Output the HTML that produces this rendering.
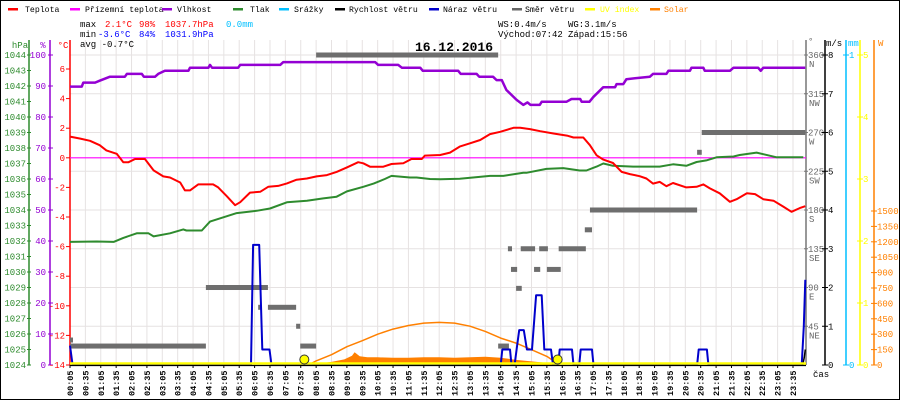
<!DOCTYPE html>
<html><head><meta charset="utf-8"><style>
html,body{margin:0;padding:0;background:#fff}
svg{display:block}
text{font-family:"Liberation Mono",monospace;font-size:9px}
</style></head><body>
<svg id="chart" width="900" height="400" viewBox="0 0 900 400" xmlns="http://www.w3.org/2000/svg">
<rect x="0.5" y="0.5" width="899" height="399" fill="#fff" stroke="#000"/>
<g id="grid"></g>
<g id="legend"></g>
<g>
<text x="80" y="27" fill="#000">max</text><text x="105" y="27" fill="#f00">2.1°C</text><text x="139" y="27" fill="#f00">98%</text><text x="165" y="27" fill="#f00">1037.7hPa</text><text x="226" y="27" fill="#00bfff">0.0mm</text>
<text x="80" y="37" fill="#000">min</text><text x="98" y="37" fill="#00f">-3.6°C</text><text x="139" y="37" fill="#00f">84%</text><text x="165" y="37" fill="#00f">1031.9hPa</text>
<text x="80" y="47" fill="#000">avg -0.7°C</text>
<text x="498" y="27" fill="#000">WS:0.4m/s</text><text x="568" y="27" fill="#000">WG:3.1m/s</text>
<text x="498" y="37" fill="#000">Východ:07:42</text><text x="568" y="37" fill="#000">Západ:15:56</text>
</g>
<text x="415" y="51" style="font-size:13px;font-weight:bold">16.12.2016</text>
<g id="axes"></g>
<g id="series"></g>
<g id="xlabels"></g>
<text x="813" y="377">čas</text>
</svg>
<script>
const tempTimes=["00:05","00:25","00:44","01:03","01:16","01:36","01:49","01:59","02:12","02:31","02:48","03:07","03:20","03:40","03:49","03:59","04:15","04:32","04:44","04:54","05:11","05:27","05:37","05:56","06:16","06:32","06:51","07:08","07:27","07:47","08:06","08:26","08:45","09:05","09:27","09:37","09:50","10:16","10:32","10:55","11:11","11:31","11:37","12:07","12:26","12:45","13:05","13:25","13:44","14:04","14:30","14:43","15:02","15:22","15:48","16:14","16:27","16:46","16:59","17:12","17:25","17:44","18:01","18:17","18:36","18:49","19:02","19:15","19:28","19:41","20:07","20:27","20:40","20:53","21:12","21:32","21:45","22:05","22:21","22:37","22:57","23:16","23:32","23:48","23:59"];
const tempValues=[1.43,1.3,1.15,0.85,0.5,0.27,-0.3,-0.3,-0.08,-0.08,-0.85,-1.26,-1.33,-1.67,-2.2,-2.2,-1.8,-1.8,-1.8,-2.0,-2.6,-3.2,-3.0,-2.35,-2.3,-1.95,-1.9,-1.73,-1.48,-1.4,-1.26,-1.17,-0.95,-0.65,-0.3,-0.37,-0.6,-0.6,-0.42,-0.37,-0.08,-0.08,0.15,0.19,0.35,0.76,0.98,1.2,1.6,1.76,2.03,2.03,1.94,1.8,1.64,1.5,1.37,1.37,0.85,0.17,-0.12,-0.35,-0.95,-1.1,-1.24,-1.4,-1.74,-1.63,-1.92,-1.7,-2.0,-1.96,-1.8,-2.07,-2.4,-2.97,-2.8,-2.4,-2.45,-2.8,-2.9,-3.3,-3.65,-3.4,-3.27];
const humTimes=["00:05","00:28","00:31","00:54","01:03","01:23","01:52","01:56","02:25","02:29","02:51","02:57","03:10","03:56","03:59","04:35","04:38","04:42","05:33","05:37","06:55","07:01","10:00","10:06","10:45","10:52","11:28","11:33","12:42","12:47","13:18","13:23","13:50","13:57","14:07","14:16","14:36","14:49","14:57","15:03","15:21","15:25","16:13","16:23","16:26","16:40","16:43","16:58","17:06","17:25","17:48","17:51","18:04","18:10","18:56","19:02","19:28","19:32","20:14","20:17","20:40","20:43","21:32","21:39","22:27","22:32","22:37","22:59","23:02","23:59"];
const humValues=[89.8,89.8,91.1,91.1,91.7,93.0,93.0,93.9,93.9,93.0,93.0,93.9,94.9,94.9,95.9,95.9,96.8,95.9,95.9,96.8,96.8,97.7,97.7,96.8,96.8,95.9,95.9,94.9,94.9,93.9,93.9,93.0,93.0,91.9,91.9,88.7,85.5,83.9,84.7,83.9,83.9,84.9,84.9,85.8,85.8,85.8,84.9,84.9,86.5,89.6,89.6,90.6,90.6,92.2,93.0,93.9,93.9,94.9,94.9,95.9,95.9,94.9,94.9,95.9,95.9,94.9,95.9,95.9,95.9,95.9];
const presTimes=["00:05","00:57","01:30","01:49","02:15","02:38","02:48","03:20","03:46","03:52","04:22","04:38","05:11","05:30","06:09","06:35","07:08","07:47","08:19","08:45","09:05","09:37","09:57","10:19","10:32","11:08","11:21","11:47","12:07","12:45","13:11","13:44","14:10","14:49","14:55","15:34","16:07","16:39","16:52","17:12","17:25","17:44","18:23","19:15","19:41","20:07","20:27","20:46","21:06","21:39","21:51","22:24","23:03","23:55"];
const presValues=[1031.94,1031.97,1031.94,1032.2,1032.5,1032.5,1032.3,1032.5,1032.75,1032.68,1032.68,1033.25,1033.6,1033.8,1033.95,1034.1,1034.5,1034.6,1034.75,1034.86,1035.2,1035.5,1035.7,1036.0,1036.2,1036.1,1036.1,1036.0,1035.98,1036.02,1036.1,1036.2,1036.2,1036.4,1036.4,1036.65,1036.7,1036.55,1036.55,1036.8,1037.0,1036.85,1036.8,1036.8,1036.95,1036.85,1037.1,1037.2,1037.4,1037.45,1037.55,1037.7,1037.4,1037.4];
const dirStart=["00:05","00:05","04:30","06:12","06:31","07:26","07:34","08:05","14:00","14:19","14:25","14:35","14:44","15:10","15:20","15:35","15:58","16:49","16:59","20:28","20:37"];
const dirEnd=["00:08","04:30","06:31","06:19","07:26","07:34","08:05","14:00","14:21","14:27","14:37","14:46","15:12","15:22","15:37","16:02","16:51","17:03","20:28","20:37","23:59"];
const dirValues=[29,22,90,67,67,45,22,360,22,135,111,89,135,111,135,111,135,157,180,247,270];
const gustTimes=["00:05","00:10","05:58","06:02","06:14","06:20","06:34","06:38","14:05","14:08","14:23","14:26","14:32","14:36","14:41","14:50","14:56","15:06","15:14","15:25","15:30","15:43","15:47","15:57","16:00","16:24","16:27","16:38","16:41","17:03","17:06","20:28","20:31","20:47","20:50","23:52","23:56","23:59"];
const gustValues=[0.5,0,0,3.1,3.1,0.4,0.4,0,0,0.4,0.4,0,0,0.4,0.9,0.9,0.4,0.4,1.8,1.8,0.4,0.4,0,0,0.4,0.4,0,0,0.4,0.4,0,0,0.4,0.4,0,0,1.0,2.2];
const speedTimes=["23:54","23:57","23:59"];
const speedValues=[0,0.2,0.4];
const solarTimes=["07:55","08:10","08:35","09:00","09:15","09:20","09:30","09:45","10:05","10:35","11:05","11:35","12:05","12:35","13:05","13:35","14:05","14:20","14:35","15:05","15:35","15:55"];
const solarValues=[0,15,30,55,90,125,85,75,75,70,70,75,75,70,75,80,70,60,50,35,20,0];
const solarMaxTimes=["07:50","08:05","08:35","09:05","09:35","10:05","10:35","11:05","11:35","12:05","12:35","13:05","13:35","14:05","14:35","15:05","15:35","16:00"];
const solarMaxValues=[0,40,100,178,237,300,350,385,408,415,408,378,327,262,213,149,84,0];
const sunTimes=["07:42","15:56"];
const xTickLabels=[];for(let h=0;h<24;h++){for(const m of ["05","35"]){xTickLabels.push(String(h).padStart(2,"0")+":"+m);}}
const tempTicks=[6,4,2,0,-2,-4,-6,-8,-10,-12,-14];
const humTicks=[100,90,80,70,60,50,40,30,20,10,0];
const presTicks=[1044,1043,1042,1041,1040,1039,1038,1037,1036,1035,1034,1033,1032,1031,1030,1029,1028,1027,1026,1025,1024];
const dirTicks=[360,315,270,225,180,135,90,45];
const dirNames=["N","NW","W","SW","S","SE","E","NE"];
const windTicks=[8,7,6,5,4,3,2,1,0];
const uvTicks=[5,4,3,2,1,0];
const solTicks=[1500,1350,1200,1050,900,750,600,450,300,150,0];

const NS="http://www.w3.org/2000/svg";
const mins=s=>{const [h,m]=s.split(":").map(Number);return h*60+m;};
const X=t=>70+(mins(t)-5)*0.51277;
const yT=c=>365-(c+14)*14.8;
const yH=h=>365-h*3.1;
const yP=p=>365-(p-1024)*15.5;
const yD=d=>365-d*0.8611;
const yW=v=>365-v*38.75;
const yU=u=>365-u*62;
const yS=w=>365-w*0.10267;
function mk(tag,attrs,parent){const e=document.createElementNS(NS,tag);for(const k in attrs)e.setAttribute(k,attrs[k]);parent.appendChild(e);return e;}
const grid=document.getElementById('grid'),axes=document.getElementById('axes'),series=document.getElementById('series'),xl=document.getElementById('xlabels'),legend=document.getElementById('legend');

xTickLabels.forEach(t=>{const x=X(t);const l=mk('line',{x1:x,x2:x,y1:40,y2:365,stroke:'#e6e2e2'},grid);

});
windTicks.forEach(v=>{if(v===0)return;const y=yW(v);const l=mk('line',{x1:70,x2:806,y1:y,y2:y,stroke:'#e6e2e2'},grid);

});

const legItems=[["Teplota","#f00",8,25,"#000"],["Přízemní teplota","#f0f",70,85,"#000"],["Vlhkost","#9400d3",162,177,"#000"],["Tlak","#2e8b2e",233,250,"#000"],["Srážky","#00bfff",279,294,"#000"],["Rychlost větru","#000",335,349,"#000"],["Náraz větru","#00c",429,443,"#000"],["Směr větru","#666",512,525,"#000"],["UV index","#ff0",585,600,"#ff0"],["Solar","#ff8000",650,664,"#ff8000"]];
legItems.forEach(it=>{const g=mk('g',{},legend);


mk('rect',{x:it[2],y:8,width:10,height:2.5,fill:it[1]},g);
const t=mk('text',{x:it[3],y:12,fill:it[4],style:'font-size:8.2px'},g);t.textContent=it[0];});

function axisLine(x,y1,color,name){const l=mk('line',{x1:x,x2:x,y1:y1,y2:365,stroke:color,'stroke-width':1.5},axes);

}
function label(x,y,s,color,anchor){const t=mk('text',{x:x,y:y,fill:color,'text-anchor':anchor||'end'},axes);t.textContent=s;return t;}
axisLine(29,40,'#2e8b2e','pressure-axis');axisLine(50,40,'#9400d3','humidity-axis');axisLine(70,40,'#f00','temperature-axis');
label(20,48,'hPa','#2e8b2e','middle');label(43,48,'%','#9400d3','middle');label(63,48,'°C','#f00','middle');
presTicks.forEach(p=>{const y=yP(p);mk('line',{x1:27,x2:31,y1:y,y2:y,stroke:'#2e8b2e'},axes);label(26,y+3,String(p),'#2e8b2e');});
humTicks.forEach(h=>{const y=yH(h);mk('line',{x1:48,x2:53,y1:y,y2:y,stroke:'#9400d3'},axes);label(46,y+3,String(h),'#9400d3');});
tempTicks.forEach(c=>{const y=yT(c);mk('line',{x1:66,x2:70,y1:y,y2:y,stroke:'#f00'},axes);label(65,y+3,String(c),'#f00');});

axisLine(806,40,'#777','direction-axis');axisLine(825,40,'#000','wind-axis');axisLine(846,40,'#00bfff','rain-axis');axisLine(860,40,'#ff0','uv-axis');axisLine(874,40,'#ff8000','solar-axis');
label(808,44,'°','#666','start');label(826,46,'m/s','#000','start');label(848,46,'mm','#00bfff','start');label(878,46,'W','#ff8000','start');
dirTicks.forEach((d,i)=>{const y=yD(d);mk('line',{x1:804,x2:808,y1:y,y2:y,stroke:'#777'},axes);label(808,y+3,String(d),'#666','start');label(809,y+12,dirNames[i],'#666','start');});
windTicks.forEach(v=>{const y=yW(v);mk('line',{x1:822,x2:828,y1:y,y2:y,stroke:'#000'},axes);label(828,y+3,String(v),'#000','start');});
mk('line',{x1:843,x2:849,y1:yW(8),y2:yW(8),stroke:'#00bfff'},axes);label(849,yW(8)+3,'1','#00bfff','start');
mk('line',{x1:843,x2:849,y1:365,y2:365,stroke:'#00bfff'},axes);label(849,368,'0','#00bfff','start');
uvTicks.forEach(u=>{const y=yU(u);mk('line',{x1:857,x2:863,y1:y,y2:y,stroke:'#ff0'},axes);label(863,y+3,String(u),'#ff0','start');});
solTicks.forEach(w=>{const y=yS(w);mk('line',{x1:871,x2:877,y1:y,y2:y,stroke:'#ff8000'},axes);label(877,y+3,String(w),'#ff8000','start');});

xTickLabels.forEach(t=>{const x=X(t);const tx=mk('text',{x:0,y:0,transform:`translate(${x+3},396) rotate(-90)`,fill:'#000',style:'font-size:8.5px;font-weight:bold'},xl);tx.textContent=t;


mk('line',{x1:x,x2:x,y1:365,y2:368,stroke:'#000'},xl);});

function poly(times,vals,yf,color,w,name){const pts=times.map((t,i)=>X(t).toFixed(1)+','+yf(vals[i]).toFixed(1)).join(' ');
const p=mk('polyline',{points:pts,fill:'none',stroke:color,'stroke-width':w,'stroke-linejoin':'round'},series);

return p;}
{const pts=[X(solarTimes[0])+','+365].concat(solarTimes.map((t,i)=>X(t).toFixed(1)+','+yS(solarValues[i]).toFixed(1))).concat([X(solarTimes[solarTimes.length-1])+','+365]).join(' ');
const a=mk('polygon',{points:pts,fill:'#ff8000'},series);

}
poly(solarMaxTimes,solarMaxValues,yS,'#ff8000',1.5,'solar-max-line');
{const l=mk('line',{x1:70,x2:806,y1:yT(0),y2:yT(0),stroke:'#f0f','stroke-width':1.2},series);

}
dirValues.forEach((d,i)=>{const x1=X(dirStart[i]),x2=X(dirEnd[i]);const r=mk('rect',{x:x1,y:yD(d)-2.5,width:Math.max(3,x2-x1),height:5,fill:'#6e6e6e'},series);

});
poly(presTimes,presValues,yP,'#2e8b2e',2,'pressure-line');
poly(humTimes,humValues,yH,'#9400d3',2.5,'humidity-line');
poly(tempTimes,tempValues,yT,'#f00',2,'temperature-line');
poly(gustTimes,gustValues,yW,'#0000cc',2,'wind-gust-line');
poly(speedTimes,speedValues,yW,'#000',1.5,'wind-speed-line');
{const l=mk('line',{x1:70,x2:806,y1:363.5,y2:363.5,stroke:'#ff0','stroke-width':2.5},series);

}
{const l=mk('line',{x1:70,x2:806,y1:365.5,y2:365.5,stroke:'#000','stroke-width':1.2},series);

}
sunTimes.forEach(t=>{const c=mk('circle',{cx:X(t),cy:359.5,r:4.5,fill:'#ff0',stroke:'#333','stroke-width':1},series);

});
</script>
</body></html>
